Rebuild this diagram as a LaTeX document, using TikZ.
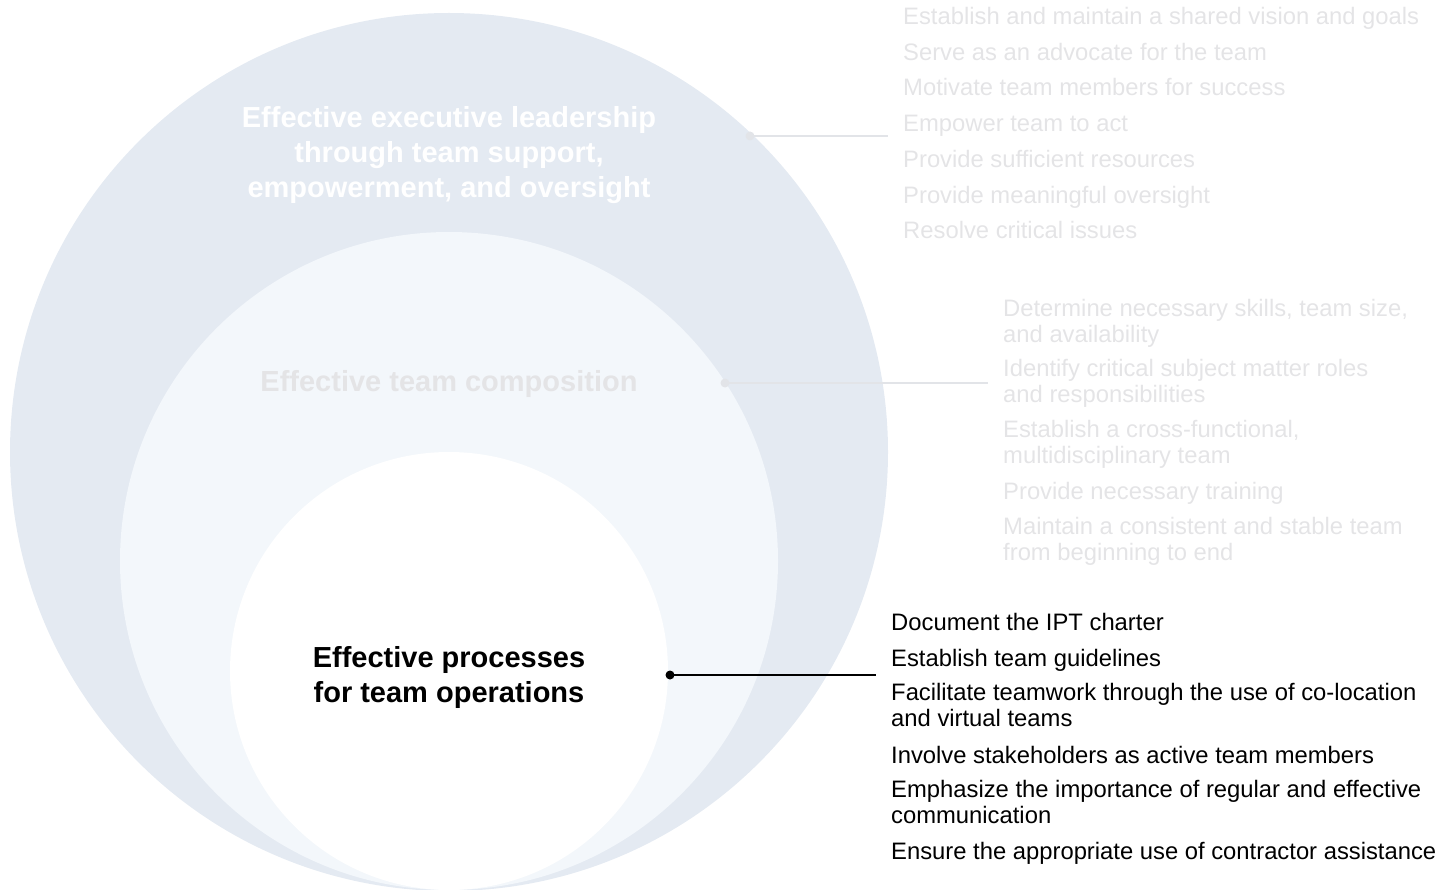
\documentclass[tikz,border=0pt]{standalone}
\usepackage{fontspec}
\setmainfont{Liberation Sans}
\definecolor{outerc}{RGB}{228,234,242}
\definecolor{midc}{RGB}{243,247,251}
\definecolor{fadec}{RGB}{228,228,230}
\definecolor{fadeline}{RGB}{226,228,232}
\begin{document}
\begin{tikzpicture}[x=1pt,y=-1pt,
  itemtxt/.style={inner sep=0pt, anchor=base west, align=left,
    font={\fontsize{23.8}{25.3}\selectfont}},
  titletxt/.style={inner sep=0pt, anchor=base, align=center,
    font={\fontsize{29}{35}\selectfont\bfseries}},
  leaddot/.style={circle, inner sep=0pt, minimum size=9pt},
  leadline/.style={line width=1.2pt}
]
\useasboundingbox (0,0) rectangle (1455,890);
% circles
\fill[outerc] (449,452) circle (439pt);
\fill[midc] (449,561) circle (329pt);
\fill[white] (449,671) circle (219pt);

% titles (base = baseline of last line)
\node[titletxt, text=white] (t1) at (449,198) {Effective executive leadership\\through team support,\\empowerment, and oversight};
\node[titletxt, text=fadec] (t2) at (449,391) {Effective team composition};
\node[titletxt, text=black] (t3) at (449,702) {Effective processes\\for team operations};

% leader lines
\node[leaddot, fill=fadeline] (d1) at (750,136) {};
\coordinate (e1) at (888,136);
\draw[leadline, fadeline] (d1.center) -- (e1);
\node[leaddot, fill=fadeline] (d2) at (725,383) {};
\coordinate (e2) at (988,383);
\draw[leadline, fadeline] (d2.center) -- (e2);
\node[leaddot, fill=black] (d3) at (670,675) {};
\coordinate (e3) at (876,675);
\draw[leadline, black] (d3.center) -- (e3);

% top list
\begin{scope}[every node/.style={itemtxt, text=fadec}]
\node (a1) at (903,25) {Establish and maintain a shared vision and goals};
\node (a2) at (903,61) {Serve as an advocate for the team};
\node (a3) at (903,96) {Motivate team members for success};
\node (a4) at (903,132) {Empower team to act};
\node (a5) at (903,168) {Provide sufficient resources};
\node (a6) at (903,204) {Provide meaningful oversight};
\node (a7) at (903,239) {Resolve critical issues};
\end{scope}

% middle list (base = baseline of last line)
\begin{scope}[every node/.style={itemtxt, text=fadec}]
\node (b1) at (1003,342) {Determine necessary skills, team size,\\and availability};
\node (b2) at (1003,402) {Identify critical subject matter roles\\and responsibilities};
\node (b3) at (1003,463) {Establish a cross-functional,\\multidisciplinary team};
\node (b4) at (1003,499) {Provide necessary training};
\node (b5) at (1003,560) {Maintain a consistent and stable team\\from beginning to end};
\end{scope}

% bottom list
\begin{scope}[every node/.style={itemtxt, text=black}]
\node (c1) at (891,630) {Document the IPT charter};
\node (c2) at (891,666) {Establish team guidelines};
\node (c3) at (891,726) {Facilitate teamwork through the use of co-location\\and virtual teams};
\node (c4) at (891,763) {Involve stakeholders as active team members};
\node (c5) at (891,823) {Emphasize the importance of regular and effective\\communication};
\node (c6) at (891,859) {Ensure the appropriate use of contractor assistance};
\end{scope}
\end{tikzpicture}
\end{document}
